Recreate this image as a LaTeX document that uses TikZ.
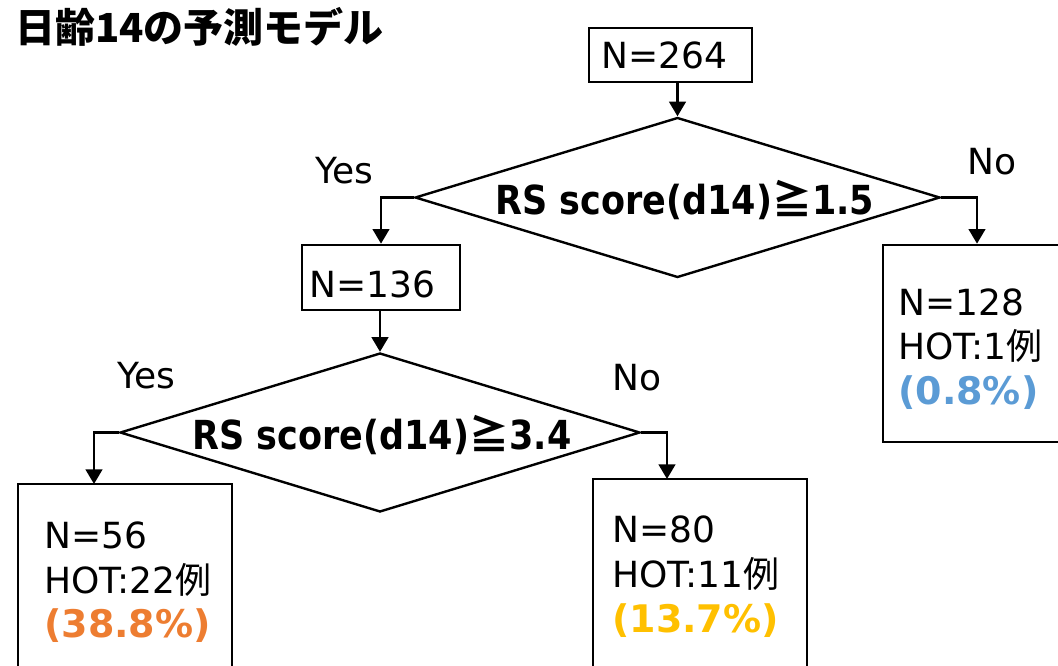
\documentclass[tikz,border=0pt]{standalone}
\usepackage{fontspec}
\setmainfont{DejaVu Sans}
\newfontfamily\jp{Noto Sans CJK JP}
\newfontfamily\condsans[FakeStretch=0.875]{DejaVu Sans}
\usetikzlibrary{shapes.geometric,arrows.meta}
\definecolor{pctorange}{HTML}{ED7D31}
\definecolor{pctgold}{HTML}{FFC000}
\definecolor{pctblue}{HTML}{5B9BD5}
\tikzset{
  boxnode/.style={draw, rectangle, line width=2pt, inner sep=0pt},
  decision/.style={draw, diamond, line width=1.8pt, inner sep=0pt, text depth=0pt,
    font=\condsans\bfseries\fontsize{30pt}{36pt}\selectfont},
  conn/.style={line width=1.8pt, -{Triangle[length=11pt,width=12.5pt]}},
  lbl/.style={anchor=base west, inner sep=0pt, font=\fontsize{27pt}{32pt}\selectfont},
  pct/.style={anchor=base west, inner sep=0pt, font=\bfseries\fontsize{28.5pt}{32pt}\selectfont},
}
\begin{document}
\begin{tikzpicture}[x=0.75pt,y=-0.75pt]
\useasboundingbox (0,0) rectangle (1058,665);
% title
\node[anchor=base west, inner sep=0pt, font=\jp\bfseries\fontsize{30pt}{36pt}\selectfont] (title) at (15,42) {日齢14の予測モデル};
% boxes
\node[boxnode, minimum width=122.25pt, minimum height=40.5pt] (b0) at (670.5,55) {};
\node[lbl] (t0) at (601,68) {N=264};
\node[boxnode, minimum width=118.5pt, minimum height=48.75pt] (b1) at (381,277.5) {};
\node[lbl] (t1) at (309,297) {N=136};
\node[boxnode, minimum width=141pt, minimum height=147.75pt] (b2) at (977,343.5) {};
\node[boxnode, minimum width=160.5pt, minimum height=177pt] (b3) at (125,602) {};
\node[boxnode, minimum width=160.5pt, minimum height=180.75pt] (b4) at (700,599.5) {};
% decisions
\node[decision, aspect=3.28, minimum width=393.75pt, minimum height=120pt] (d1) at (677.5,197.5) {\hspace*{11pt}RS score(d14){\jp ≧}1.5};
\node[decision, aspect=3.27, minimum width=390pt, minimum height=119.25pt] (d2) at (380,432.5) {\hspace*{3pt}RS score(d14){\jp ≧}3.4};
% branch labels
\node[lbl] (y1) at (315,183) {Yes};
\node[lbl] (n1) at (967,174) {No};
\node[lbl] (y2) at (117,388) {Yes};
\node[lbl] (n2) at (612,390) {No};
% box texts
\node[lbl] (b2a) at (898,315) {N=128};
\node[lbl] (b2b) at (898,359) {HOT:1{\jp 例}};
\node[pct, text=pctblue] (b2c) at (898,404) {(0.8\%)};
\node[lbl] (b3a) at (44,548) {N=56};
\node[lbl] (b3b) at (44,593) {HOT:22{\jp 例}};
\node[pct, text=pctorange] (b3c) at (44,637) {(38.8\%)};
\node[lbl] (b4a) at (612,542) {N=80};
\node[lbl] (b4b) at (612,587) {HOT:11{\jp 例}};
\node[pct, text=pctgold] (b4c) at (612,632) {(13.7\%)};
% connectors
\coordinate (c3) at (94,484);
\coordinate (c4) at (667,479);
\draw[conn] (b0.south -| d1.north) -- (d1.north);
\draw[conn] (d1.west) -| (b1.north);
\draw[conn] (d1.east) -| (b2.north);
\draw[conn] (b1.south -| d2.north) -- (d2.north);
\draw[conn] (d2.west) -| (c3);
\draw[conn] (d2.east) -| (c4);
\end{tikzpicture}
\end{document}
